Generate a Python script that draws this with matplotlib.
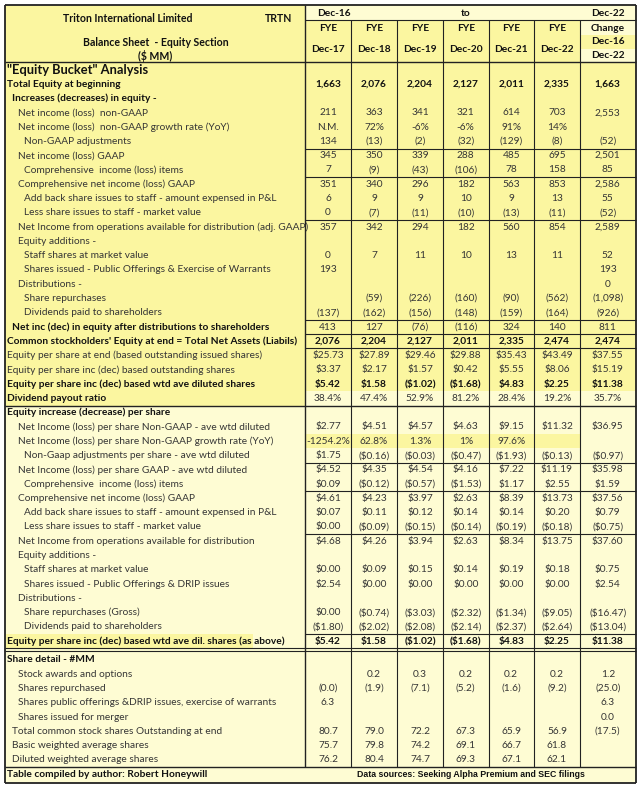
import matplotlib
matplotlib.use("Agg")
import matplotlib.pyplot as plt
from matplotlib.patches import Rectangle

# ---------------- DATA ----------------
company = "Triton International Limited"
ticker = "TRTN"
subtitle = "Balance Sheet  - Equity Section"
units = "($ MM)"
years = ["Dec-17", "Dec-18", "Dec-19", "Dec-20", "Dec-21", "Dec-22"]

# Section 1: "Equity Bucket" Analysis ($MM)
s1_labels = [
    '"Equity Bucket" Analysis',
    "Total Equity at beginning",
    "Increases (decreases) in equity -",
    "Net income (loss)  non-GAAP",
    "Net income (loss)  non-GAAP growth rate (YoY)",
    "Non-GAAP adjustments",
    "Net income (loss) GAAP",
    "Comprehensive  income (loss) items",
    "Comprehensive net income (loss) GAAP",
    "Add back share issues to staff - amount expensed in P&L",
    "Less share issues to staff - market value",
    "Net Income from operations available for distribution (adj. GAAP)",
    "Equity additions -",
    "Staff shares at market value",
    "Shares issued - Public Offerings & Exercise of Warrants",
    "Distributions -",
    "Share repurchases",
    "Dividends paid to shareholders",
    "Net inc (dec) in equity after distributions to shareholders",
    "Common stockholders' Equity at end = Total Net Assets (Liabils)",
    "Equity per share at end (based outstanding issued shares)",
    "Equity per share inc (dec) based outstanding shares",
    "Equity per share inc (dec) based wtd ave diluted shares",
    "Dividend payout ratio",
]
s1_indent = [0, 0, 1, 2, 2, 3, 2, 3, 2, 3, 3, 2, 2, 3, 3, 2, 3, 3, 1, 0, 0, 0, 0, 0]
s1_bold = [1, 1, 1, 0, 0, 0, 0, 0, 0, 0, 0, 0, 0, 0, 0, 0, 0, 0, 1, 1, 0, 0, 1, 1]
s1_dec17 = ["", "1,663", "", "211", "N.M.", "134", "345", "7", "351", "6", "0", "357", "", "0", "193", "", "", "(137)", "413", "2,076", "$25.73", "$3.37", "$5.42", "38.4%"]
s1_dec18 = ["", "2,076", "", "363", "72%", "(13)", "350", "(9)", "340", "9", "(7)", "342", "", "7", "", "", "(59)", "(162)", "127", "2,204", "$27.89", "$2.17", "$1.58", "47.4%"]
s1_dec19 = ["", "2,204", "", "341", "-6%", "(2)", "339", "(43)", "296", "9", "(11)", "294", "", "11", "", "", "(226)", "(156)", "(76)", "2,127", "$29.46", "$1.57", "($1.02)", "52.9%"]
s1_dec20 = ["", "2,127", "", "321", "-6%", "(32)", "288", "(106)", "182", "10", "(10)", "182", "", "10", "", "", "(160)", "(148)", "(116)", "2,011", "$29.88", "$0.42", "($1.68)", "81.2%"]
s1_dec21 = ["", "2,011", "", "614", "91%", "(129)", "485", "78", "563", "9", "(13)", "560", "", "13", "", "", "(90)", "(159)", "324", "2,335", "$35.43", "$5.55", "$4.83", "28.4%"]
s1_dec22 = ["", "2,335", "", "703", "14%", "(8)", "695", "158", "853", "13", "(11)", "854", "", "11", "", "", "(562)", "(164)", "140", "2,474", "$43.49", "$8.06", "$2.25", "19.2%"]
s1_change = ["", "1,663", "", "2,553", "", "(52)", "2,501", "85", "2,586", "55", "(52)", "2,589", "", "52", "193", "0", "(1,098)", "(926)", "811", "2,474", "$37.55", "$15.19", "$11.38", "35.7%"]
s1_boldvals = [0, 1, 0, 0, 0, 0, 0, 0, 0, 0, 0, 0, 0, 0, 0, 0, 0, 0, 0, 1, 0, 0, 1, 0]

# Section 2: Equity increase (decrease) per share
s2_labels = [
    "Equity increase (decrease) per share",
    "Net Income (loss) per share Non-GAAP - ave wtd diluted",
    "Net Income (loss) per share Non-GAAP growth rate (YoY)",
    "Non-Gaap adjustments per share - ave wtd diluted",
    "Net Income (loss) per share GAAP - ave wtd diluted",
    "Comprehensive  income (loss) items",
    "Comprehensive net income (loss) GAAP",
    "Add back share issues to staff - amount expensed in P&L",
    "Less share issues to staff - market value",
    "Net Income from operations available for distribution",
    "Equity additions -",
    "Staff shares at market value",
    "Shares issued - Public Offerings & DRIP issues",
    "Distributions -",
    "Share repurchases (Gross)",
    "Dividends paid to shareholders",
    "Equity per share inc (dec) based wtd ave dil. shares (as above)",
]
s2_indent = [0, 2, 2, 3, 2, 3, 2, 3, 3, 2, 2, 3, 3, 2, 3, 3, 0]
s2_bold = [1, 0, 0, 0, 0, 0, 0, 0, 0, 0, 0, 0, 0, 0, 0, 0, 1]
s2_dec17 = ["", "$2.77", "-1254.2%", "$1.75", "$4.52", "$0.09", "$4.61", "$0.07", "$0.00", "$4.68", "", "$0.00", "$2.54", "", "$0.00", "($1.80)", "$5.42"]
s2_dec18 = ["", "$4.51", "62.8%", "($0.16)", "$4.35", "($0.12)", "$4.23", "$0.11", "($0.09)", "$4.26", "", "$0.09", "$0.00", "", "($0.74)", "($2.02)", "$1.58"]
s2_dec19 = ["", "$4.57", "1.3%", "($0.03)", "$4.54", "($0.57)", "$3.97", "$0.12", "($0.15)", "$3.94", "", "$0.15", "$0.00", "", "($3.03)", "($2.08)", "($1.02)"]
s2_dec20 = ["", "$4.63", "1%", "($0.47)", "$4.16", "($1.53)", "$2.63", "$0.14", "($0.14)", "$2.63", "", "$0.14", "$0.00", "", "($2.32)", "($2.14)", "($1.68)"]
s2_dec21 = ["", "$9.15", "97.6%", "($1.93)", "$7.22", "$1.17", "$8.39", "$0.14", "($0.19)", "$8.34", "", "$0.19", "$0.00", "", "($1.34)", "($2.37)", "$4.83"]
s2_dec22 = ["", "$11.32", "", "($0.13)", "$11.19", "$2.55", "$13.73", "$0.20", "($0.18)", "$13.75", "", "$0.18", "$0.00", "", "($9.05)", "($2.64)", "$2.25"]
s2_change = ["", "$36.95", "", "($0.97)", "$35.98", "$1.59", "$37.56", "$0.79", "($0.75)", "$37.60", "", "$0.75", "$2.54", "", "($16.47)", "($13.04)", "$11.38"]
s2_boldvals = [0] * 16 + [1]

# Section 3: Share detail - #MM
s3_labels = [
    "Share detail - #MM",
    "Stock awards and options",
    "Shares repurchased",
    "Shares public offerings &DRIP issues, exercise of warrants",
    "Shares issued for merger",
    "Total common stock shares Outstanding at end",
    "Basic weighted average shares",
    "Diluted weighted average shares",
]
s3_indent = [0, 2, 2, 2, 2, 1, 1, 1]
s3_bold = [1, 0, 0, 0, 0, 0, 0, 0]
s3_dec17 = ["", "", "(0.0)", "6.3", "", "80.7", "75.7", "76.2"]
s3_dec18 = ["", "0.2", "(1.9)", "", "", "79.0", "79.8", "80.4"]
s3_dec19 = ["", "0.3", "(7.1)", "", "", "72.2", "74.2", "74.7"]
s3_dec20 = ["", "0.2", "(5.2)", "", "", "67.3", "69.1", "69.3"]
s3_dec21 = ["", "0.2", "(1.6)", "", "", "65.9", "66.7", "67.1"]
s3_dec22 = ["", "0.2", "(9.2)", "", "", "56.9", "61.8", "62.1"]
s3_change = ["", "1.2", "(25.0)", "6.3", "0.0", "(17.5)", "", ""]

footer_left = "Table compiled by author: Robert Honeywill"
footer_right = "Data sources: Seeking Alpha Premium and SEC filings"

# ---------------- LAYOUT / STYLE ----------------
YEL = "#FBF6A0"
LIGHT = "#FEFCD3"
TXT = "#353535"
BLK = "#111111"
FONT = "Lato"
FS = 7.3

W, H = 640, 785
L, R = 4.5, 635.5
TOP, BOT = 4.5, 782.5
XLAB = 305.0
col_edges = [305.0, 351.0, 397.0, 443.0, 488.5, 534.0, 580.0, 635.5]
col_centers = [(a + b) / 2 for a, b in zip(col_edges[:-1], col_edges[1:])]
indent_x = [7, 12, 18, 24]

ROW = 14.28
s1_y0 = 70.0
s2_y0 = s1_y0 + len(s1_labels) * ROW
s3_y0 = 660.0
FOOT_Y = 774.5
FOOT_TOP = 767.0

fig = plt.figure(figsize=(W / 100, H / 100), dpi=100)
fig.patch.set_facecolor("white")
ax = fig.add_axes([0, 0, 1, 1])
ax.set_xlim(0, W)
ax.set_ylim(H, 0)
ax.axis("off")


def rect(x0, y0, x1, y1, color):
    ax.add_patch(Rectangle((x0, y0), x1 - x0, y1 - y0, facecolor=color,
                           edgecolor="none", zorder=0))


def hline(y, x0, x1, lw=0.8, color="#222222"):
    ax.plot([x0, x1], [y, y], color=color, lw=lw, zorder=3, solid_capstyle="butt")


def vline(x, y0, y1, lw=0.8, color="#222222"):
    ax.plot([x, x], [y0, y1], color=color, lw=lw, zorder=3, solid_capstyle="butt")


def txt(x, y, s, bold=False, ha="left", size=FS, color=None, family=FONT):
    if not s:
        return
    ax.text(x, y, s, ha=ha, va="center", fontsize=size, family=family,
            fontweight="bold" if bold else "normal",
            color=color if color else (BLK if bold else TXT), zorder=4)


sec1_end = s2_y0 - ROW / 2          # ~404
payout_top = sec1_end - ROW          # ~390

# backgrounds
rect(L, TOP, R, BOT, LIGHT)
rect(L, TOP, XLAB, sec1_end, YEL)
rect(XLAB, 20, R, payout_top, YEL)
rect(col_edges[-2], 20, R, 35, LIGHT)
rect(col_edges[-2], 48.5, R, 62, LIGHT)
# highlighted growth row in section 2
gy = s2_y0 + 2 * ROW
rect(XLAB, gy - ROW / 2, col_edges[-2], gy + ROW / 2, YEL)
# highlighted label of the "as above" row
ay = s2_y0 + 16 * ROW
rect(L + 1, ay - ROW / 2, 253, ay + ROW / 2, YEL)

# ---------------- HEADER ----------------
HS = 7.6
txt(128, 19, company, bold=True, ha="center", size=HS)
txt(279, 19, ticker, bold=True, ha="center", size=HS)
txt(156, 42, subtitle, bold=True, ha="center", size=HS)
txt(155, 56, units, bold=True, ha="center", size=HS)
txt(334, 13, "Dec-16", bold=True, ha="center", size=7.3)
txt(466, 13, "to", bold=True, ha="center", size=7.3)
txt(608, 13, "Dec-22", bold=True, ha="center", size=7.3)
for c, yr in zip(col_centers[:-1], years):
    txt(c, 28.5, "FYE", bold=True, ha="center", size=7.3)
    txt(c, 49.5, yr, bold=True, ha="center", size=7.3)
txt(col_centers[-1], 28.5, "Change", bold=True, ha="center", size=7.3)
txt(col_centers[-1], 42, "Dec-16", bold=True, ha="center", size=7.3)
txt(col_centers[-1], 56, "Dec-22", bold=True, ha="center", size=7.3)

# ---------------- BODY ----------------
sections = [
    (s1_y0, s1_labels, s1_indent, s1_bold, s1_boldvals,
     [s1_dec17, s1_dec18, s1_dec19, s1_dec20, s1_dec21, s1_dec22, s1_change]),
    (s2_y0, s2_labels, s2_indent, s2_bold, s2_boldvals,
     [s2_dec17, s2_dec18, s2_dec19, s2_dec20, s2_dec21, s2_dec22, s2_change]),
    (s3_y0, s3_labels, s3_indent, s3_bold, [0] * len(s3_labels),
     [s3_dec17, s3_dec18, s3_dec19, s3_dec20, s3_dec21, s3_dec22, s3_change]),
]
for y0, labels, ind, bolds, bvals, cols in sections:
    for i, lab in enumerate(labels):
        y = y0 + i * ROW
        if lab.startswith('"Equity Bucket"'):
            txt(indent_x[0], y, lab, bold=True, size=9.3)
        else:
            txt(indent_x[ind[i]], y, lab, bold=bool(bolds[i]))
        for c, col in zip(col_centers, cols):
            txt(c, y, col[i], bold=bool(bvals[i]), ha="center")

txt(7, FOOT_Y, footer_left, bold=True, size=7.3)
txt(471, FOOT_Y, footer_right, bold=True, ha="center", size=6.3,
    family="Liberation Sans")

# ---------------- GRID LINES ----------------
def b1(i):  # boundary below row i of section 1
    return s1_y0 + i * ROW + ROW / 2


def b2(i):
    return s2_y0 + i * ROW + ROW / 2


# outer border
for x in (L, R):
    vline(x, TOP, BOT, lw=1.3)
for y in (TOP, BOT):
    hline(y, L, R, lw=1.3)
# header
hline(20, XLAB, R)
hline(62, L, R, lw=1.0)
vline(XLAB, TOP, FOOT_TOP, lw=1.0)
for x in col_edges[1:-1]:
    vline(x, 20, FOOT_TOP)
# section 1 inner lines
for i in (5, 7, 10, 17, 18, 19):
    hline(b1(i), XLAB, R)
hline(sec1_end, L, R, lw=1.0)
# section 2 inner lines
for i in (3, 5, 8, 15):
    hline(b2(i), XLAB, R)
hline(b2(16), L, R, lw=0.8)
hline(b2(16) + 3, L, R, lw=0.8)
# footer
hline(FOOT_TOP, L, R, lw=1.0)

fig.savefig("out.png", dpi=100, facecolor=fig.get_facecolor())
